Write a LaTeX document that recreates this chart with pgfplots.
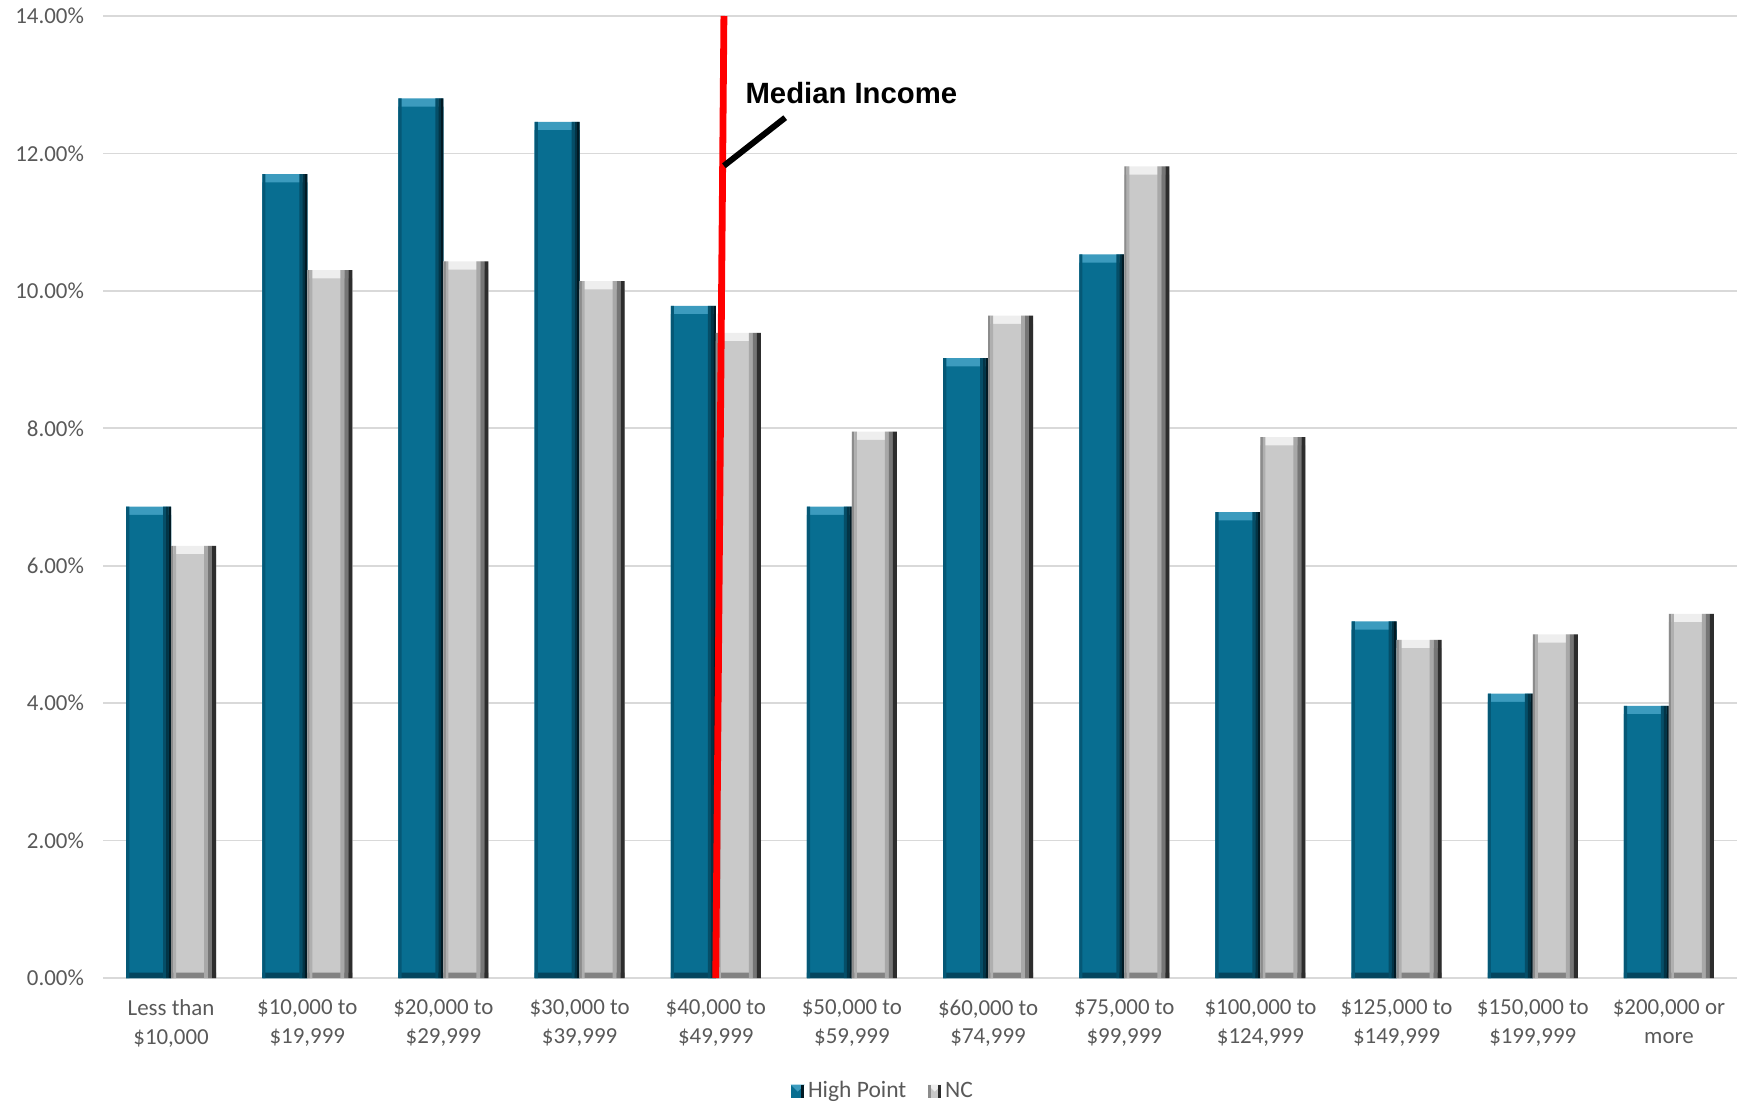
\documentclass[border=0pt]{standalone}
\usepackage{fontspec}
\setmainfont{Carlito}
\newfontfamily\arialfont{Liberation Sans}
\usepackage{pgfplots}
\usepackage{pgfplotstable}
\pgfplotsset{compat=1.18}

% High Point bar tones
\definecolor{hpTop}{RGB}{60,155,190}
\definecolor{hpM}{RGB}{8,110,145}
\definecolor{hpL}{RGB}{5,88,118}
\definecolor{hpD1}{RGB}{5,78,104}
\definecolor{hpD2}{RGB}{3,52,70}
\definecolor{hpK}{RGB}{1,26,36}
\definecolor{hpB}{RGB}{4,70,95}
% NC bar tones
\definecolor{ncTop}{RGB}{238,238,238}
\definecolor{ncM}{RGB}{201,201,201}
\definecolor{ncL1}{RGB}{140,140,140}
\definecolor{ncL2}{RGB}{175,175,175}
\definecolor{ncD1}{RGB}{168,168,168}
\definecolor{ncD2}{RGB}{118,118,118}
\definecolor{ncK}{RGB}{45,45,45}
\definecolor{ncB}{RGB}{130,130,130}
\definecolor{txt}{RGB}{89,89,89}
\definecolor{gridc}{RGB}{217,217,217}

\pgfplotstableread{
x hp nc
0 6.86 6.29
1 11.70 10.30
2 12.80 10.43
3 12.46 10.14
4 9.78 9.39
5 6.86 7.95
6 9.02 9.64
7 10.53 11.81
8 6.78 7.87
9 5.19 4.92
10 4.14 5.00
11 3.96 5.30
}\incomedata

% one strip of a bevelled bar: width, shift, colour
\pgfplotsset{strip/.style n args={3}{bar width=#1, bar shift=#2, fill=#3, draw=none, forget plot}}

\begin{document}
\begin{tikzpicture}
\path[use as bounding box] (-51.5bp,-63.5bp) rectangle (820.5bp,489bp);
\begin{axis}[
  scale only axis,
  width=817bp, height=481bp,
  ybar=0pt,
  xmin=-0.5, xmax=11.5, ymin=0, ymax=14,
  clip=false,
  axis line style={draw=none},
  xtick=data,
  xticklabels={{Less than\\\$10,000},{\$10,000 to\\\$19,999},{\$20,000 to\\\$29,999},{\$30,000 to\\\$39,999},{\$40,000 to\\\$49,999},{\$50,000 to\\\$59,999},{\$60,000 to\\\$74,999},{\$75,000 to\\\$99,999},{\$100,000 to\\\$124,999},{\$125,000 to\\\$149,999},{\$150,000 to\\\$199,999},{\$200,000 or\\more}},
  ytick={0,2,4,6,8,10,12,14},
  yticklabels={0.00\%,2.00\%,4.00\%,6.00\%,8.00\%,10.00\%,12.00\%,14.00\%},
  tick style={draw=none},
  ymajorgrids,
  grid style={gridc, line width=0.9bp},
  xticklabel style={align=center, font=\fontsize{11.5}{14.5}\selectfont, text=txt, yshift=-3bp},
  yticklabel style={font=\fontsize{11.5}{14}\selectfont, text=txt, xshift=-6bp},
  legend style={at={(0.478,0)}, anchor=center, yshift=-56.5bp, draw=none, fill=none,
    inner sep=0.5bp, font=\fontsize{11.8}{13}\selectfont, text=txt, legend columns=2,
    /tikz/every even column/.append style={column sep=9bp}},
]
% ---- High Point bars (left of each category) ----
\addplot[strip={22.5bp}{-11.25bp}{hpTop}] table[x=x,y=hp]{\incomedata};
\addplot[strip={22.5bp}{-11.25bp}{hpM}, y filter/.expression={y-0.12}] table[x=x,y=hp]{\incomedata};
\addplot[strip={22.5bp}{-11.25bp}{hpB}, y filter/.expression={min(y,0.08)}] table[x=x,y=hp]{\incomedata};
\addplot[strip={1.6bp}{-21.7bp}{hpL}] table[x=x,y=hp]{\incomedata};
\addplot[strip={1.5bp}{-3.25bp}{hpD1}] table[x=x,y=hp]{\incomedata};
\addplot[strip={1.3bp}{-1.85bp}{hpD2}] table[x=x,y=hp]{\incomedata};
\addplot[strip={1.2bp}{-0.6bp}{hpK}] table[x=x,y=hp]{\incomedata};
% ---- NC bars (right of each category) ----
\addplot[strip={22.5bp}{11.25bp}{ncTop}] table[x=x,y=nc]{\incomedata};
\addplot[strip={22.5bp}{11.25bp}{ncM}, y filter/.expression={y-0.12}] table[x=x,y=nc]{\incomedata};
\addplot[strip={22.5bp}{11.25bp}{ncB}, y filter/.expression={min(y,0.08)}] table[x=x,y=nc]{\incomedata};
\addplot[strip={1.2bp}{0.6bp}{ncL1}] table[x=x,y=nc]{\incomedata};
\addplot[strip={1.3bp}{1.85bp}{ncL2}] table[x=x,y=nc]{\incomedata};
\addplot[strip={2bp}{17.5bp}{ncD1}] table[x=x,y=nc]{\incomedata};
\addplot[strip={2bp}{19.5bp}{ncD2}] table[x=x,y=nc]{\incomedata};
\addplot[strip={2bp}{21.5bp}{ncK}] table[x=x,y=nc]{\incomedata};

\addlegendimage{legend image code/.code={\fill[hpM] (0bp,-3bp) rectangle (6bp,3bp); \fill[hpTop] (0bp,3bp) -- (6bp,3bp) -- (3bp,0bp) -- cycle; \fill[hpK] (4.8bp,-3bp) rectangle (6bp,3bp);}}
\addlegendentry{High Point}
\addlegendimage{legend image code/.code={\fill[ncM] (0bp,-3bp) rectangle (6bp,3bp); \fill[ncTop] (0bp,3bp) -- (6bp,3bp) -- (3bp,0bp) -- cycle; \fill[ncK] (4.8bp,-3bp) rectangle (6bp,3bp); \fill[ncL1] (0bp,-3bp) rectangle (1bp,3bp);}}
\addlegendentry{NC}

% median income marker
\addplot[sharp plot, red, line width=3.4bp, forget plot] coordinates {(4.0,0) (4.06,14)};
\addplot[sharp plot, black, line width=3bp, forget plot] coordinates {(4.06,11.82) (4.51,12.52)};
\node[anchor=base west, inner sep=0pt, font=\arialfont\bfseries\fontsize{14.7}{16}\selectfont] at (axis cs:4.216,12.72) {Median Income};
\end{axis}
\end{tikzpicture}
\end{document}
